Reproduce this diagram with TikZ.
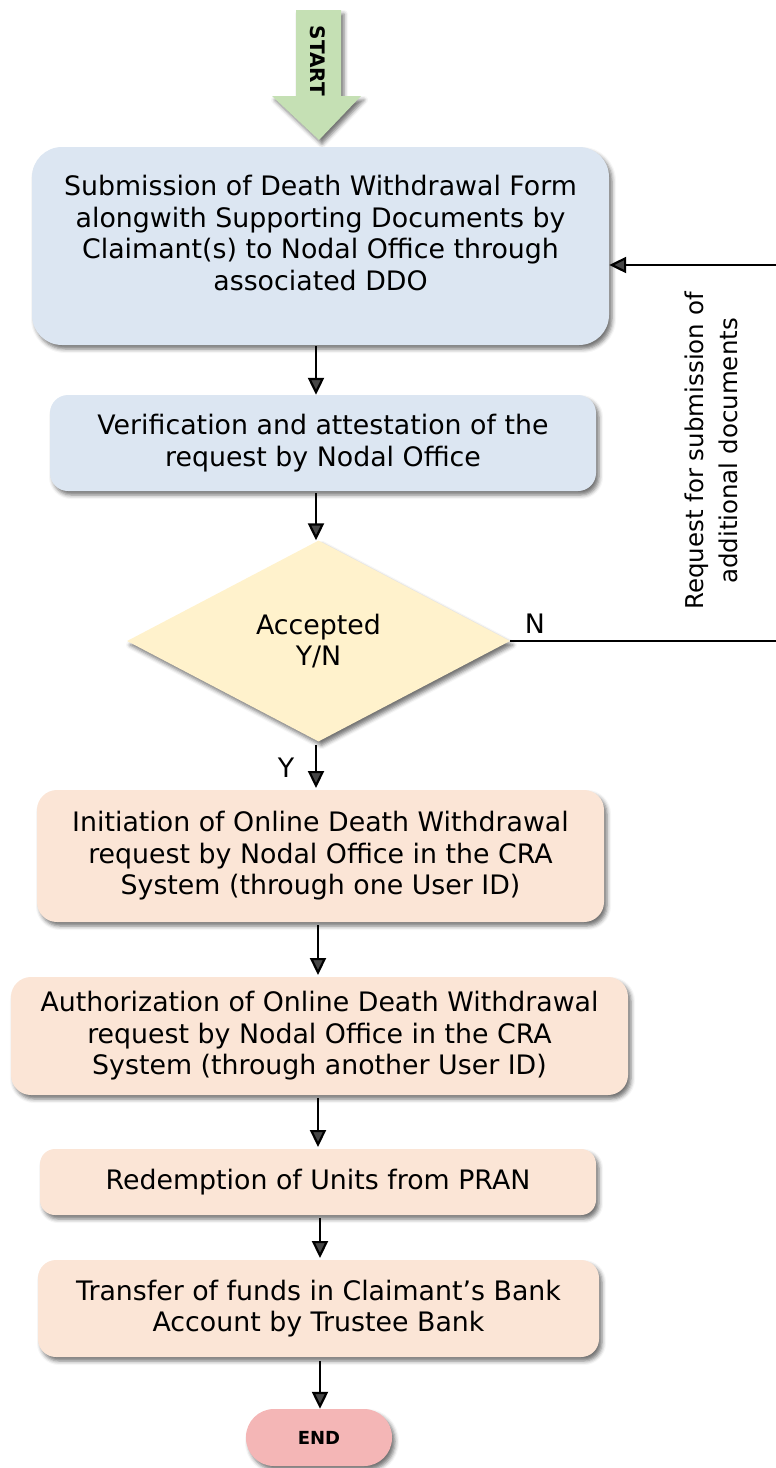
\documentclass[tikz,border=0pt]{standalone}
\usepackage{fontspec}
\setmainfont{DejaVu Sans}
\usetikzlibrary{shapes.geometric,arrows.meta,shadows.blur}
\definecolor{cblue}{RGB}{220,230,242}
\definecolor{cyel}{RGB}{255,242,204}
\definecolor{cpeach}{RGB}{251,229,214}
\definecolor{cend}{RGB}{244,182,182}
\definecolor{cgreen}{RGB}{197,224,180}
\begin{document}
\begin{tikzpicture}[x=1pt,y=-1pt,
  shd/.style={blur shadow={shadow xshift=3pt,shadow yshift=-4pt,shadow blur radius=4pt,shadow opacity=55}},
  boxbase/.style={shd,draw=none,inner sep=0pt,align=center,font=\fontsize{26.8}{31.5}\selectfont},
  bluebox/.style={boxbase,fill=cblue},
  peachbox/.style={boxbase,fill=cpeach},
  txt/.style={align=center,inner sep=0pt,font=\fontsize{26.8}{31.5}\selectfont},
  arr/.style={line width=2.2pt,-{Triangle[length=17pt,width=16pt]}},
  conn/.style={line width=2.2pt}
]
\useasboundingbox (0,0) rectangle (776,1468);

% START arrow
\path[fill=cgreen,shd] (296,10) -- (341,10) -- (341,96) -- (361,96) -- (319,140) -- (272,96) -- (296,96) -- cycle;
\node[rotate=-90,inner sep=0pt,font=\fontsize{20}{22}\selectfont\bfseries] (start) at (318,61) {START};

% Box 1
\node[bluebox,rounded corners=30pt,minimum width=577pt,minimum height=198pt] (b1) at (320.5,246) {};
\node[txt] (t1) at (320.5,233) {Submission of Death Withdrawal Form\\alongwith Supporting Documents by\\Claimant(s) to Nodal Office through\\associated DDO};

% Box 2
\node[bluebox,rounded corners=18pt,minimum width=546pt,minimum height=96pt] (b2) at (323,443) {Verification and attestation of the\\request by Nodal Office};

% Diamond
\node[diamond,shd,fill=cyel,inner sep=0pt,minimum width=383pt,minimum height=201pt,align=center,font=\fontsize{26.8}{31.5}\selectfont] (d) at (318.5,641) {Accepted\\Y/N};

% Box 3
\node[peachbox,rounded corners=20pt,minimum width=567pt,minimum height=132pt] (b3) at (320.5,856) {Initiation of Online Death Withdrawal\\request by Nodal Office in the CRA\\System (through one User ID)};

% Box 4
\node[peachbox,rounded corners=20pt,minimum width=617pt,minimum height=118pt] (b4) at (319.5,1036) {Authorization of Online Death Withdrawal\\request by Nodal Office in the CRA\\System (through another User ID)};

% Box 5
\node[peachbox,rounded corners=15pt,minimum width=556pt,minimum height=66pt] (b5) at (318,1182) {Redemption of Units from PRAN};

% Box 6
\node[peachbox,rounded corners=18pt,minimum width=561pt,minimum height=97pt] (b6) at (318.5,1308.5) {Transfer of funds in Claimant’s Bank\\Account by Trustee Bank};

% END
\node[shd,fill=cend,rounded corners=28pt,minimum width=146pt,minimum height=57pt,inner sep=0pt,font=\fontsize{18}{20}\selectfont\bfseries] (e) at (319,1437.5) {END};

% connectors
\draw[arr] (316,346) coordinate (a1s) -- (a1s |- b2.north);
\draw[arr] (316,493) coordinate (a2s) -- (a2s |- d.north);
\draw[arr] (316,745) coordinate (a3s) -- (316,788) coordinate (a3e);
\draw[arr] (318,925) coordinate (a4s) -- (318,975) coordinate (a4e);
\draw[arr] (318,1098) coordinate (a5s) -- (318,1147) coordinate (a5e);
\draw[arr] (320,1218) coordinate (a6s) -- (320,1258) coordinate (a6e);
\draw[arr] (320,1361) coordinate (a7s) -- (a7s |- e.north);

% return loop (vertical part lies outside the picture)
\coordinate (r1) at (778,265);
\coordinate (r2) at (778,643);
\draw[conn] (d.east) -- (d.east -| r2);
\draw[arr] (r1) -- (r1 -| b1.east);

% labels
\node[txt] (ly) at (286,768) {Y};
\node[txt] (ln) at (535,624) {N};
\node[rotate=90,align=center,inner sep=0pt,font=\fontsize{24.5}{34}\selectfont] (lr) at (711,451) {Request for submission of\\additional documents};
\end{tikzpicture}
\end{document}
